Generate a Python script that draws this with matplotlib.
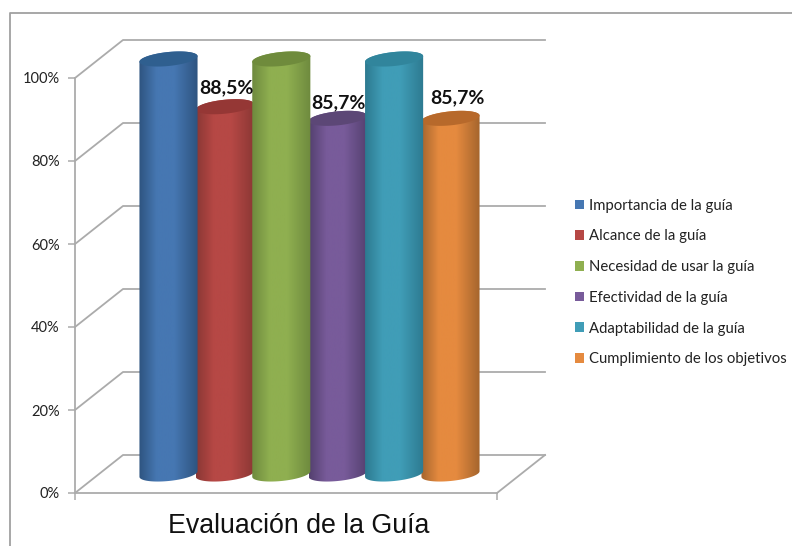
import matplotlib
matplotlib.use('Agg')
import matplotlib.pyplot as plt
import numpy as np
from matplotlib.colors import LinearSegmentedColormap
from matplotlib.patches import Patch, PathPatch
from matplotlib.path import Path

categories = ['Importancia de la guía', 'Alcance de la guía', 'Necesidad de usar la guía',
              'Efectividad de la guía', 'Adaptabilidad de la guía', 'Cumplimiento de los objetivos']
values = [100, 88.5, 100, 85.7, 100, 85.7]
value_labels = ['', '88,5%', '', '85,7%', '', '85,7%']
y_ticks = [0, 20, 40, 60, 80, 100]
tick_labels = ['0%', '20%', '40%', '60%', '80%', '100%']
title = 'Evaluación de la Guía'

# colours: legend/centre, side edge, top face
centre = ['#4677B2', '#B64845', '#8FAF50', '#785B9A', '#409DB7', '#E58A3F']
edge = ['#2E5480', '#8A3734', '#6E8A3E', '#54406F', '#2D7A90', '#A5652D']
top = ['#2F5F8F', '#953735', '#6F8B3C', '#5C4776', '#31859C', '#B7692B']
legend_cols = ['#4677B2', '#B64845', '#8FAF50', '#785B9A', '#409DB7', '#E58A3F']
GRID = '#ababab'

W, H = 792, 546
PX_PER_PCT = 4.15
PX_PER_CAT = 56.4


# pixel layout helpers
def xp(px):
    return (px - 168.5) / PX_PER_CAT


def yp(px):
    return (493 - px) / PX_PER_PCT


fig = plt.figure(figsize=(W / 100, H / 100), dpi=100)
ax = fig.add_axes([0, 0, 1, 1])
ax.patch.set_visible(False)

dx = xp(123) - xp(75)
dy = yp(455) - yp(493)
x0, x1 = xp(75), xp(497)

# walls and floor
for v in y_ticks:
    ax.plot([x0, x0 + dx, x1 + dx], [v, v + dy, v + dy], color=GRID, lw=1.3, zorder=1)
ax.plot([x1, x1 + dx], [0, dy], color=GRID, lw=1.3, zorder=1)

base = yp(474)
half = 0.515
minor = 7 / PX_PER_PCT
tilt = 2.8 / PX_PER_PCT  # the ellipses lean up to the right
t = np.linspace(0, np.pi, 60)


def cylinder(i, v):
    xs = i + half * np.cos(t)
    lean = tilt * np.cos(t)
    low = np.c_[xs, base - minor * np.sin(t) + lean]
    high = np.c_[xs, base + v + minor * np.sin(t) + lean]
    return np.r_[low, high[::-1]]


# short ones first, the tall ones sit in front of them
order = sorted(range(len(values)), key=lambda k: values[k])
for n, i in enumerate(order):
    v = values[i]
    z = 3 + n
    cmap = LinearSegmentedColormap.from_list(
        'c' + str(i), [(0, edge[i]), (0.3, centre[i]), (0.6, centre[i]), (1, edge[i])])
    grad = np.linspace(0, 1, 128).reshape(1, -1)
    im = ax.imshow(grad, cmap=cmap, aspect='auto', zorder=z,
                   extent=[i - half, i + half, base - minor - tilt, base + v + minor + tilt])
    patch = PathPatch(Path(cylinder(i, v)), fc='none', ec='none', zorder=z)
    ax.add_patch(patch)
    im.set_clip_path(patch)
    tt = np.linspace(0, 2 * np.pi, 80)
    ax.fill(i + half * np.cos(tt), base + v + minor * np.sin(tt) + tilt * np.cos(tt),
            color=top[i], lw=0, zorder=z + 0.1)

# value labels
label_pos = [None, (226, 88), None, (338, 103), None, (457, 98)]
for lab, pos in zip(value_labels, label_pos):
    if lab:
        ax.text(xp(pos[0]), yp(pos[1]), lab, ha='center', va='center', fontsize=14,
                fontweight='bold', family='Lato', color='#111111', zorder=20)

ax.set_xlim(xp(0), xp(W))
ax.set_ylim(yp(H), yp(0))

for s in ['top', 'right']:
    ax.spines[s].set_visible(False)
ax.spines['left'].set_position(('data', x0))
ax.spines['left'].set_bounds(0, 100)
ax.spines['bottom'].set_position(('data', 0))
ax.spines['bottom'].set_bounds(x0, x1)
for s in ['left', 'bottom']:
    ax.spines[s].set_color(GRID)
    ax.spines[s].set_linewidth(1.3)
ax.set_yticks(y_ticks)
ax.set_yticklabels(tick_labels, fontsize=10.5, family='Lato', color='#222222')
ax.set_xticks([x0, x1])
ax.set_xticklabels(['', ''])
ax.tick_params(axis='both', color=GRID, length=5, width=1.1)
ax.tick_params(axis='y', pad=6)

# outer frame, open on the right and the bottom
ax.plot([xp(10), xp(10), xp(W)], [yp(H), yp(13), yp(13)], color='#a0a0a0', lw=1.3, zorder=0, clip_on=False)

handles = [Patch(fc=c, ec='none') for c in legend_cols]
ax.legend(handles, categories, loc='center left', bbox_to_anchor=(575 / W, 1 - 282.5 / H),
          bbox_transform=fig.transFigure, frameon=False, prop={'family': 'Lato', 'size': 10.75},
          handlelength=0.62, handleheight=0.62, handletextpad=0.3, labelspacing=1.12,
          borderpad=0, borderaxespad=0, labelcolor='#222222')

ax.text(xp(299), yp(526), title, ha='center', va='center', fontsize=19.3,
        family='Liberation Sans', color='#111111')

fig.savefig('out.png', dpi=100)
